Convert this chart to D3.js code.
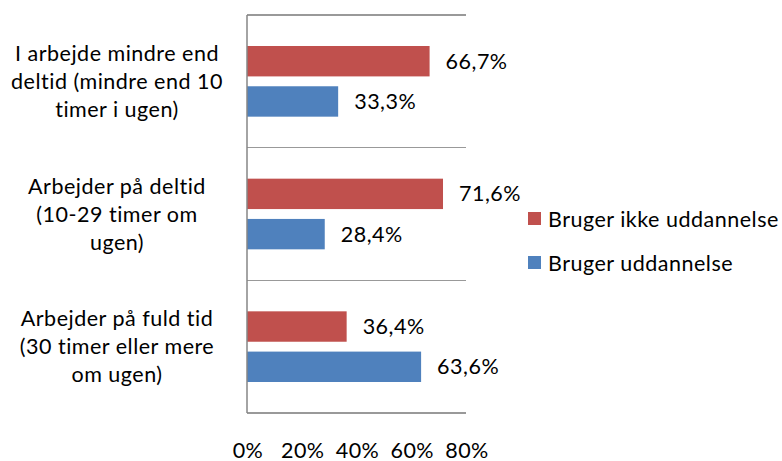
<!DOCTYPE html>
<html>
<head>
<meta charset="utf-8">
<script src="https://cdn.jsdelivr.net/npm/d3@7"></script>
<style>
  html, body { margin: 0; padding: 0; background: #fff; }
  svg { display: block; font-family: Lato, "Open Sans", sans-serif; font-variant-ligatures: none; font-feature-settings: "liga" 0, "clig" 0; }
  text { letter-spacing: 0.5px; }
</style>
</head>
<body>
<svg id="chart" width="782" height="461"></svg>
<script>
const categories = [
  ["I arbejde mindre end", "deltid (mindre end 10", "timer i ugen)"],
  ["Arbejder på deltid", "(10-29 timer om", "ugen)"],
  ["Arbejder på fuld tid", "(30 timer eller mere", "om ugen)"]
];
const seriesNames = ["Bruger ikke uddannelse", "Bruger uddannelse"];
const seriesColors = ["#C0504D", "#4F81BD"];
const ikkeValues = [66.7, 71.6, 36.4];
const uddValues = [33.3, 28.4, 63.6];
const tickValues = [0, 20, 40, 60, 80];

const series = [ikkeValues, uddValues];
const svg = d3.select("#chart");
const fs = 21.5;

const x = d3.scaleLinear().domain([0, 80]).range([247, 466]);
const y = d3.scaleBand().domain(d3.range(categories.length)).range([15, 413]);
const inner = d3.scaleBand().domain(d3.range(series.length)).range([31, y.bandwidth() - 31]).paddingInner(0.245);

// frame lines
const gridColor = "#999";
svg.append("g").selectAll("line")
  .data(d3.range(categories.length + 1))
  .join("line")
  .attr("x1", x(0)).attr("x2", x(80))
  .attr("y1", d => d < categories.length ? y(d) : y.range()[1])
  .attr("y2", d => d < categories.length ? y(d) : y.range()[1])
  .attr("stroke", gridColor).attr("stroke-width", 1.2)
  .attr("shape-rendering", "crispEdges");

// bars
const groups = svg.append("g").selectAll("g")
  .data(categories)
  .join("g")
  .attr("transform", (d, i) => `translate(0,${y(i)})`);

groups.each(function(cat, ci) {
  const g = d3.select(this);
  series.forEach((vals, si) => {
    g.append("rect")
      .attr("x", x(0))
      .attr("y", inner(si))
      .attr("width", x(vals[ci]) - x(0))
      .attr("height", inner.bandwidth())
      .attr("fill", seriesColors[si]);
    g.append("text")
      .attr("x", x(vals[ci]) + 16)
      .attr("y", inner(si) + inner.bandwidth() / 2)
      .attr("dy", "0.35em")
      .attr("font-size", fs)
      .attr("fill", "#000")
      .text(d3.format(".1f")(vals[ci]).replace(".", ",") + "%");
  });
  // category label
  const t = g.append("text")
    .attr("text-anchor", "middle")
    .attr("font-size", fs)
    .attr("fill", "#000");
  cat.forEach((line, li) => {
    t.append("tspan")
      .attr("x", 117)
      .attr("y", y.bandwidth() / 2 + (li - 1) * 28)
      .attr("dy", "0.35em")
      .text(line);
  });
});

// left axis line
svg.append("line")
  .attr("x1", x(0)).attr("x2", x(0))
  .attr("y1", y.range()[0]).attr("y2", y.range()[1])
  .attr("stroke", "#868686").attr("stroke-width", 1.5);

// x tick labels
svg.append("g").selectAll("text")
  .data(tickValues)
  .join("text")
  .attr("x", d => x(d) + 1)
  .attr("y", 458)
  .attr("text-anchor", "middle")
  .attr("font-size", fs)
  .attr("fill", "#000")
  .text(d => d + "%");

// legend
const legend = svg.append("g").selectAll("g")
  .data(seriesNames)
  .join("g")
  .attr("transform", (d, i) => `translate(528,${212 + i * 44})`);
legend.append("rect").attr("width", 13).attr("height", 13).attr("fill", (d, i) => seriesColors[i]);
legend.append("text")
  .attr("x", 20).attr("y", 7).attr("dy", "0.35em")
  .attr("font-size", fs).attr("fill", "#000")
  .text(d => d);
</script>
</body>
</html>
